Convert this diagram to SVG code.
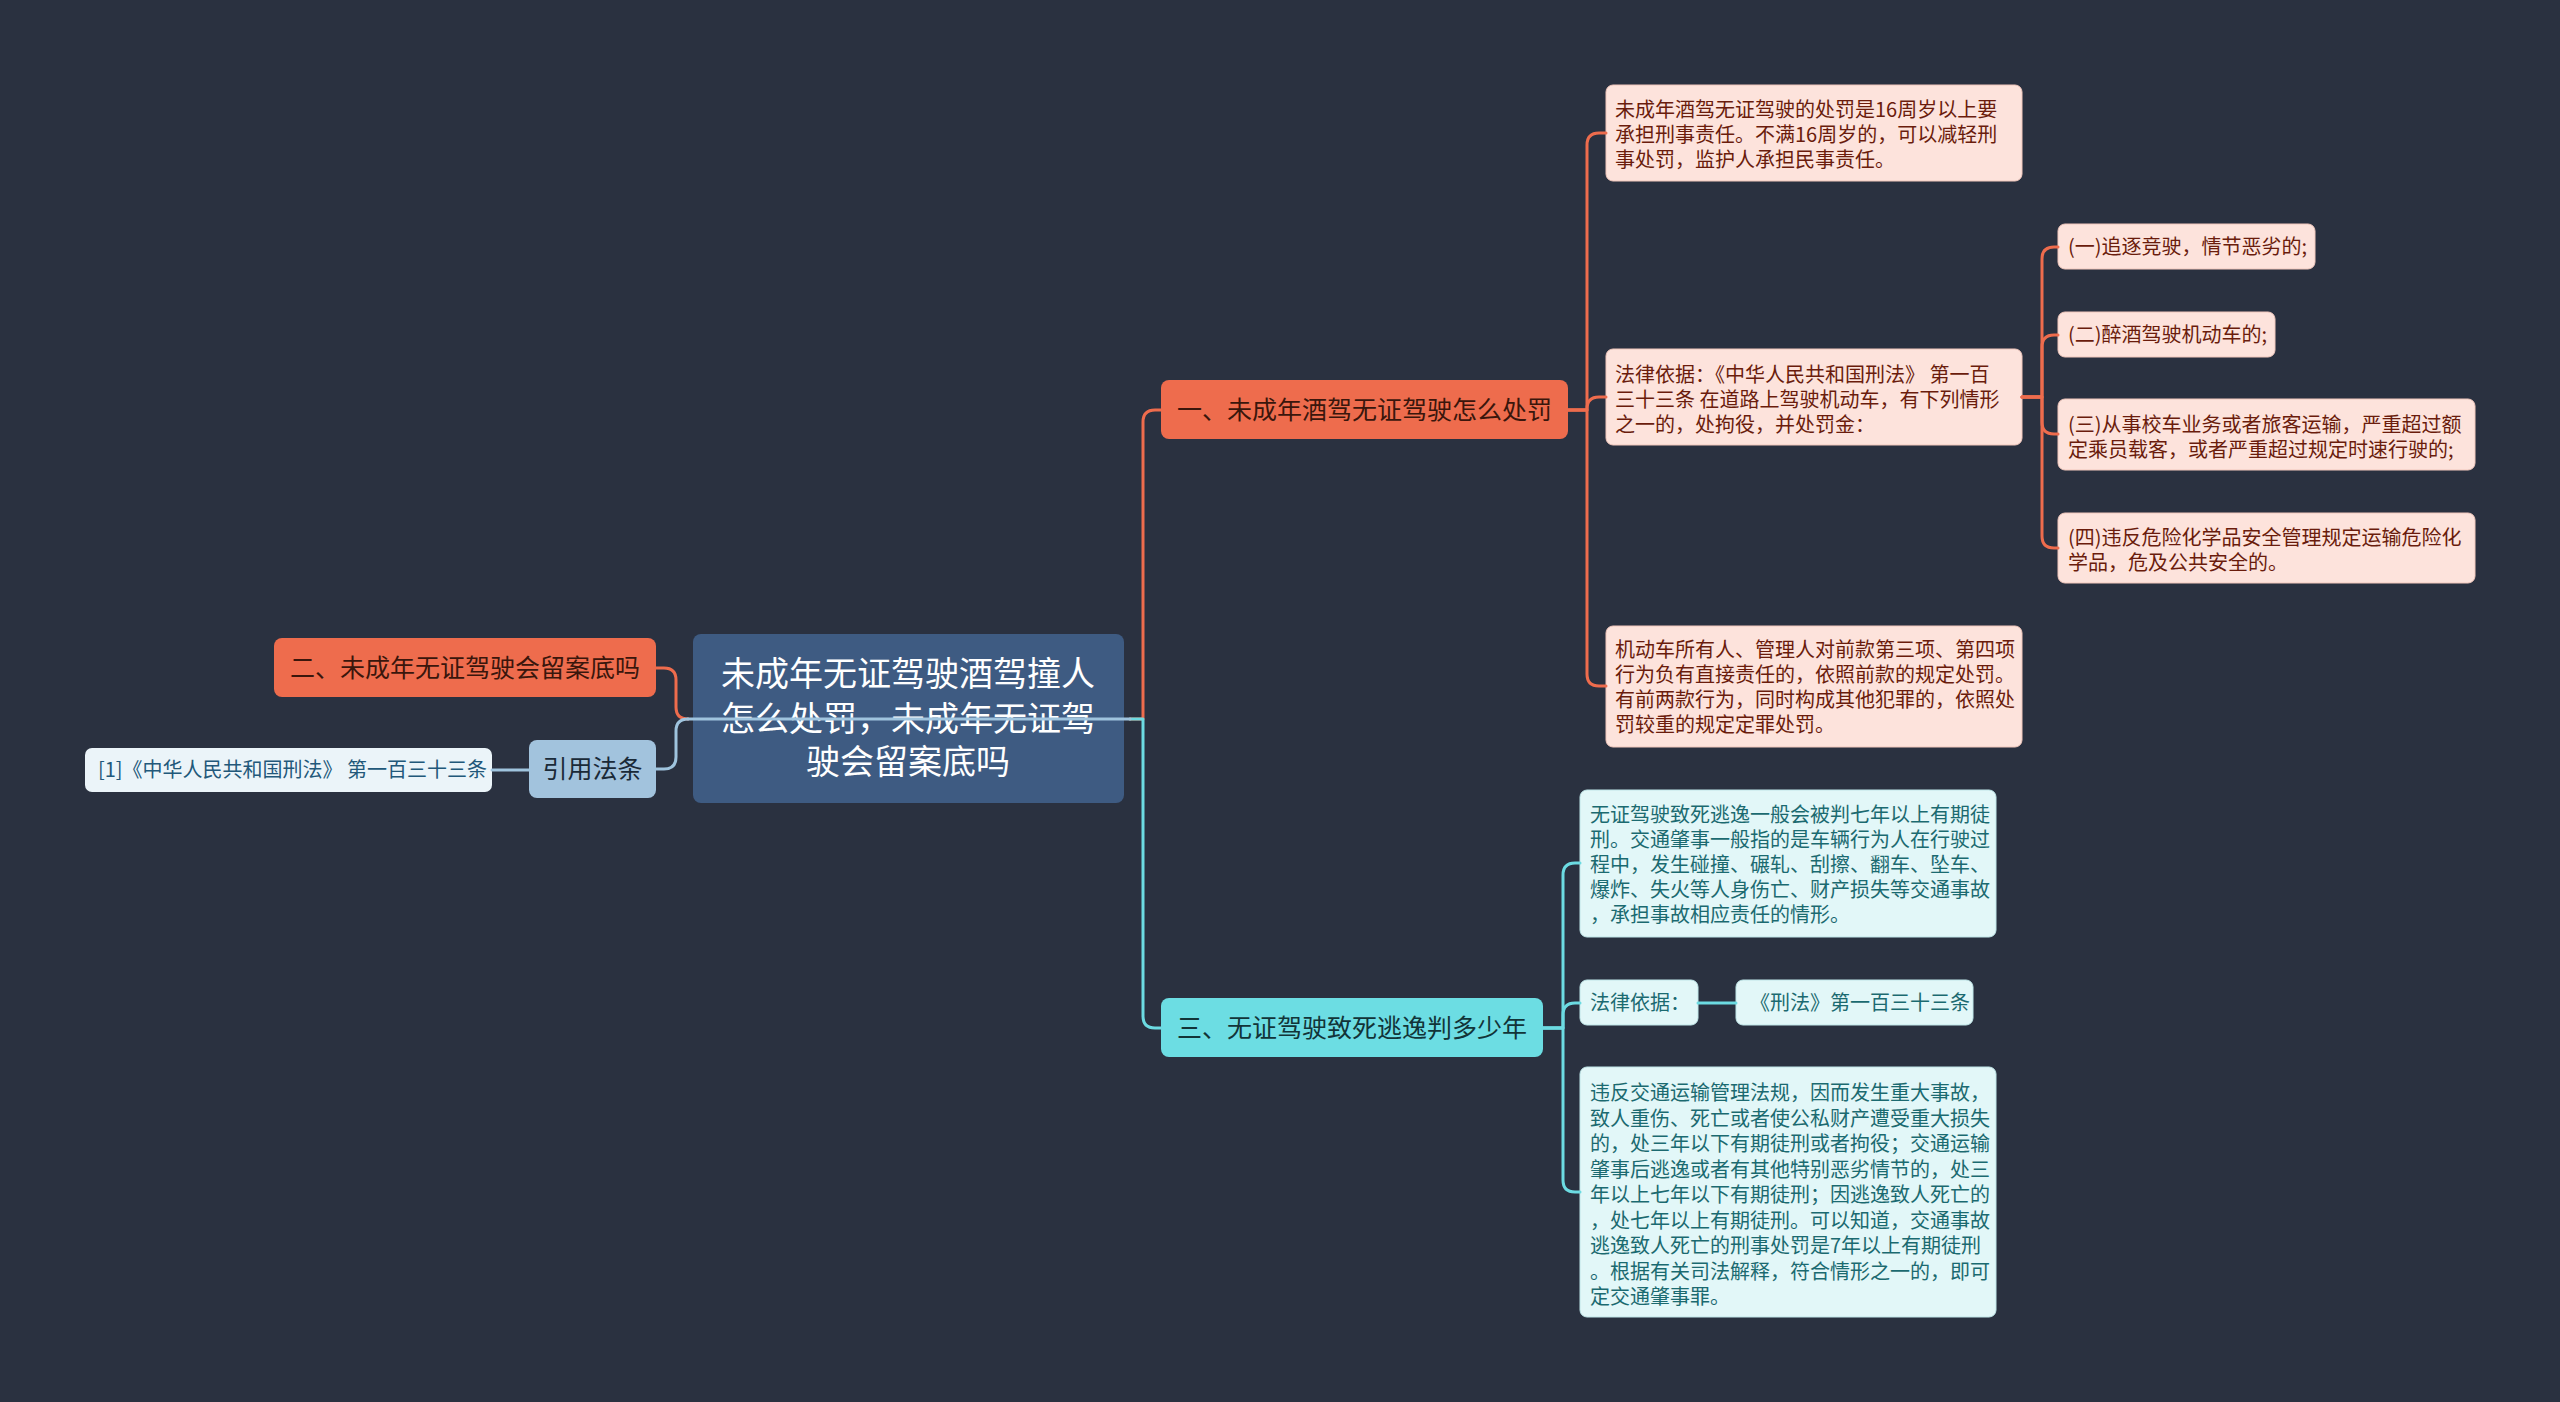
<svg xmlns="http://www.w3.org/2000/svg" width="2560" height="1402" viewBox="0 0 2560 1402">
<style>
text{font-family:"Noto Sans CJK SC","Noto Sans",sans-serif;}
.c{fill:none;stroke-width:3;stroke-linecap:round;stroke-linejoin:round;}
.or{stroke:#ee6c4d;}
.cy{stroke:#6cdbe2;}
.lb{stroke:#9fc4de;}
.root rect{fill:#3e5b82;}
.root text{fill:#ffffff;font-size:34px;text-anchor:middle;}
.br1 rect{fill:#ee6c4d;}
.br1 text{fill:#3a160c;font-size:25px;text-anchor:middle;}
.br3 rect{fill:#6cdde3;}
.br3 text{fill:#123438;font-size:25px;text-anchor:middle;}
.lp rect{fill:#fde3dc;stroke:#f0c7bc;stroke-width:1;}
.lp text{fill:#6a1c0c;font-size:20px;}
.lc rect{fill:#e2f7f8;stroke:#bfe6e8;stroke-width:1;}
.lc text{fill:#1b6a70;font-size:20px;}
.ref rect{fill:#a2c3dd;}
.ref text{fill:#1a2a38;font-size:25px;text-anchor:middle;}
.refc rect{fill:#ebf4f9;}
.refc text{fill:#22587a;font-size:20px;}
</style>
<rect x="0" y="0" width="2560" height="1402" fill="#2a3140"/>

<g id="node-root" class="root">
<rect x="693" y="634" width="431" height="169" rx="8"/>
<text x="908" y="686">未成年无证驾驶酒驾撞人</text>
<text x="908" y="731">怎么处罚，未成年无证驾</text>
<text x="908" y="774">驶会留案底吗</text>
</g>

<g id="node-b1" class="br1">
<rect x="1161" y="380" width="407" height="59" rx="8"/>
<text x="1364.5" y="419">一、未成年酒驾无证驾驶怎么处罚</text>
</g>

<g id="node-b2" class="br1">
<rect x="274" y="638" width="382" height="59" rx="8"/>
<text x="465" y="677">二、未成年无证驾驶会留案底吗</text>
</g>

<g id="node-ref" class="ref">
<rect x="529" y="740" width="127" height="58" rx="8"/>
<text x="592.5" y="778">引用法条</text>
</g>

<g id="node-ref1" class="refc">
<rect x="85" y="748" width="407" height="44" rx="7"/>
<text x="98" y="777">[1]《中华人民共和国刑法》 第一百三十三条</text>
</g>

<g id="node-b3" class="br3">
<rect x="1161" y="998" width="382" height="59" rx="8"/>
<text x="1352" y="1037">三、无证驾驶致死逃逸判多少年</text>
</g>

<g id="node-l1" class="lp">
<rect x="1606" y="85" width="416" height="96" rx="7"/>
<text x="1615" y="117">未成年酒驾无证驾驶的处罚是16周岁以上要</text>
<text x="1615" y="142">承担刑事责任。不满16周岁的，可以减轻刑</text>
<text x="1615" y="167">事处罚，监护人承担民事责任。</text>
</g>

<g id="node-l2" class="lp">
<rect x="1606" y="349" width="416" height="96" rx="7"/>
<text x="1615" y="382">法律依据：《中华人民共和国刑法》 第一百</text>
<text x="1615" y="407">三十三条 在道路上驾驶机动车，有下列情形</text>
<text x="1615" y="432">之一的，处拘役，并处罚金：</text>
</g>

<g id="node-l3" class="lp">
<rect x="1606" y="626" width="416" height="121" rx="7"/>
<text x="1615" y="657">机动车所有人、管理人对前款第三项、第四项</text>
<text x="1615" y="682">行为负有直接责任的，依照前款的规定处罚。</text>
<text x="1615" y="707">有前两款行为，同时构成其他犯罪的，依照处</text>
<text x="1615" y="732">罚较重的规定定罪处罚。</text>
</g>

<g id="node-s1" class="lp">
<rect x="2058" y="224" width="257" height="45" rx="7"/>
<text x="2068" y="254">(一)追逐竞驶，情节恶劣的;</text>
</g>

<g id="node-s2" class="lp">
<rect x="2058" y="312" width="217" height="45" rx="7"/>
<text x="2068" y="342">(二)醉酒驾驶机动车的;</text>
</g>

<g id="node-s3" class="lp">
<rect x="2058" y="399" width="417" height="71" rx="7"/>
<text x="2068" y="432">(三)从事校车业务或者旅客运输，严重超过额</text>
<text x="2068" y="457">定乘员载客，或者严重超过规定时速行驶的;</text>
</g>

<g id="node-s4" class="lp">
<rect x="2058" y="513" width="417" height="70" rx="7"/>
<text x="2068" y="545">(四)违反危险化学品安全管理规定运输危险化</text>
<text x="2068" y="570">学品，危及公共安全的。</text>
</g>

<g id="node-c1" class="lc">
<rect x="1580" y="790" width="416" height="147" rx="7"/>
<text x="1590" y="822">无证驾驶致死逃逸一般会被判七年以上有期徒</text>
<text x="1590" y="847">刑。交通肇事一般指的是车辆行为人在行驶过</text>
<text x="1590" y="872">程中，发生碰撞、碾轧、刮擦、翻车、坠车、</text>
<text x="1590" y="897">爆炸、失火等人身伤亡、财产损失等交通事故</text>
<text x="1590" y="922">，承担事故相应责任的情形。</text>
</g>

<g id="node-c2" class="lc">
<rect x="1580" y="980" width="118" height="45" rx="7"/>
<text x="1590" y="1010">法律依据：</text>
</g>

<g id="node-c2a" class="lc">
<rect x="1736" y="980" width="237" height="45" rx="7"/>
<text x="1750" y="1010">《刑法》第一百三十三条</text>
</g>

<g id="node-c3" class="lc">
<rect x="1580" y="1067" width="416" height="250" rx="7"/>
<text x="1590" y="1100">违反交通运输管理法规，因而发生重大事故，</text>
<text x="1590" y="1125.5">致人重伤、死亡或者使公私财产遭受重大损失</text>
<text x="1590" y="1151">的，处三年以下有期徒刑或者拘役；交通运输</text>
<text x="1590" y="1176.5">肇事后逃逸或者有其他特别恶劣情节的，处三</text>
<text x="1590" y="1202">年以上七年以下有期徒刑；因逃逸致人死亡的</text>
<text x="1590" y="1227.5">，处七年以上有期徒刑。可以知道，交通事故</text>
<text x="1590" y="1253">逃逸致人死亡的刑事处罚是7年以上有期徒刑</text>
<text x="1590" y="1278.5">。根据有关司法解释，符合情形之一的，即可</text>
<text x="1590" y="1304">定交通肇事罪。</text>
</g>

<g id="connectors">
<path class="c or" d="M1130,719 H1143 V422 Q1143,410 1155,410 H1161"/>
<path class="c cy" d="M1130,719 H1143 V1016 Q1143,1028 1155,1028 H1161"/>
<path class="c or" d="M688,719 Q676,719 676,707 V680 Q676,668 664,668 H656"/>
<path class="c lb" d="M688,719 Q676,719 676,731 V757 Q676,769 664,769 H656"/>
<path class="c lb" d="M688,719 H1130"/>
<path class="c lb" d="M529,770 H492"/>
<path class="c or" d="M1568,410 H1587 V145 Q1587,133 1599,133 H1606"/>
<path class="c or" d="M1568,410 H1587 V409 Q1587,397 1599,397 H1606"/>
<path class="c or" d="M1568,410 H1587 V674 Q1587,686 1599,686 H1606"/>
<path class="c or" d="M2022,397 H2042 V259 Q2042,247 2054,247 H2058"/>
<path class="c or" d="M2022,397 H2042 V347 Q2042,335 2054,335 H2058"/>
<path class="c or" d="M2022,397 H2042 V422 Q2042,434 2054,434 H2058"/>
<path class="c or" d="M2022,397 H2042 V536 Q2042,548 2054,548 H2058"/>
<path class="c cy" d="M1543,1028 H1563 V875 Q1563,863 1575,863 H1580"/>
<path class="c cy" d="M1543,1028 H1563 V1015 Q1563,1003 1575,1003 H1580"/>
<path class="c cy" d="M1543,1028 H1563 V1180 Q1563,1192 1575,1192 H1580"/>
<path class="c cy" d="M1698,1003 H1736"/>
</g>
</svg>
